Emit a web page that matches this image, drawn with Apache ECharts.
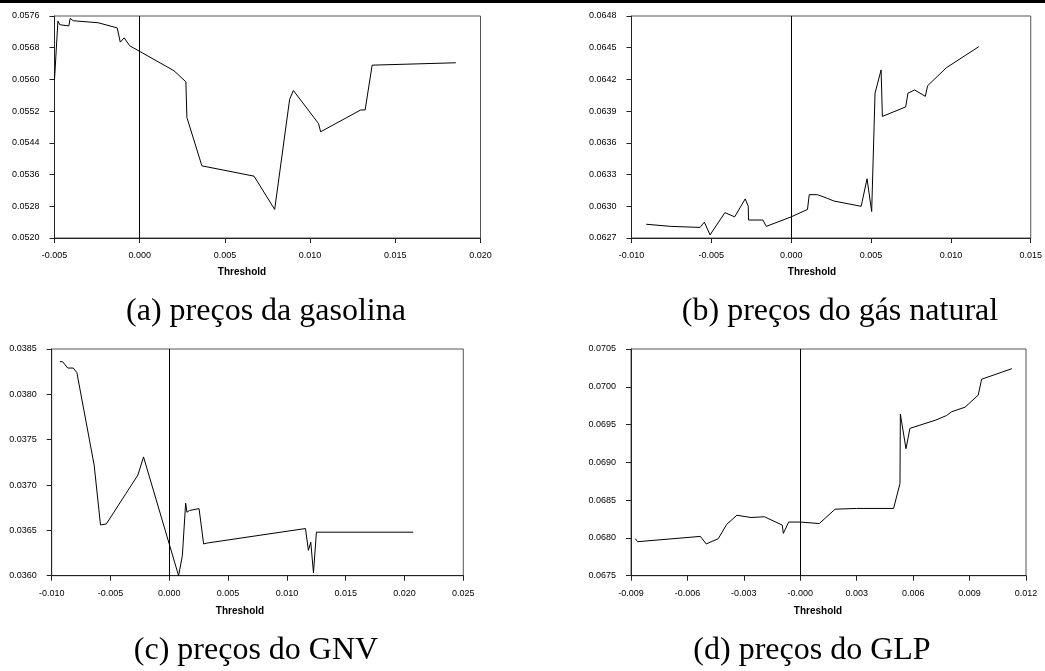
<!DOCTYPE html>
<html>
<head>
<meta charset="utf-8">
<script src="https://cdn.jsdelivr.net/npm/echarts@6/dist/echarts.min.js"></script>
<style>
html,body{margin:0;padding:0;background:#fff;}
#chart{width:1045px;height:671px;}
</style>
</head>
<body>
<div id="chart"></div>
<script>
// (a) preços da gasolina
const thresholdA = [-0.00500,-0.00480,-0.00469,-0.00416,-0.00408,-0.00390,-0.00244,-0.00132,-0.00114,-0.00091,-0.00059,0.00201,0.00271,0.00277,0.00365,0.00671,0.00792,0.00880,0.00902,0.01049,0.01062,0.01297,0.01323,0.01364,0.01855];
const valueA = [0.05599,0.05747,0.05738,0.05735,0.05754,0.05748,0.05743,0.05730,0.05694,0.05705,0.05685,0.05622,0.05594,0.05504,0.05382,0.05356,0.05272,0.05550,0.05572,0.05489,0.05468,0.05523,0.05523,0.05636,0.05642];
// (b) preços do gás natural
const thresholdB = [-0.00908,-0.00754,-0.00571,-0.00544,-0.00508,-0.00415,-0.00354,-0.00288,-0.00269,-0.00267,-0.00177,-0.00156,0.00000,0.00102,0.00113,0.00163,0.00219,0.00267,0.00438,0.00475,0.00504,0.00525,0.00563,0.00571,0.00717,0.00731,0.00773,0.00840,0.00854,0.00971,0.01175];
const valueB = [0.06283,0.06281,0.06280,0.06285,0.06273,0.06294,0.06290,0.06307,0.06300,0.06287,0.06287,0.06281,0.06290,0.06297,0.06311,0.06311,0.06308,0.06305,0.06300,0.06326,0.06295,0.06407,0.06429,0.06385,0.06394,0.06407,0.06410,0.06404,0.06414,0.06431,0.06451];
// (c) preços do GNV
const thresholdC = [-0.00931,-0.00908,-0.00863,-0.00817,-0.00786,-0.00639,-0.00585,-0.00536,-0.00267,-0.00219,0.00079,0.00111,0.00139,0.00150,0.00173,0.00253,0.00292,0.00321,0.01158,0.01183,0.01203,0.01226,0.01251,0.02074];
const valueC = [0.03836,0.03836,0.03829,0.03829,0.03824,0.03722,0.03656,0.03657,0.03711,0.03731,0.03600,0.03622,0.03680,0.03670,0.03672,0.03674,0.03635,0.03636,0.03652,0.03628,0.03637,0.03603,0.03648,0.03648];
// (d) preços do GLP
const thresholdD = [-0.00877,-0.00865,-0.00531,-0.00500,-0.00436,-0.00391,-0.00337,-0.00262,-0.00191,-0.00096,-0.00090,-0.00062,0.00000,0.00101,0.00185,0.00300,0.00496,0.00530,0.00532,0.00562,0.00583,0.00721,0.00778,0.00805,0.00876,0.00946,0.00964,0.01125];
const valueD = [0.06799,0.06795,0.06802,0.06792,0.06799,0.06818,0.06830,0.06827,0.06828,0.06817,0.06806,0.06821,0.06821,0.06819,0.06838,0.06839,0.06839,0.06872,0.06964,0.06918,0.06945,0.06956,0.06962,0.06967,0.06973,0.06989,0.07010,0.07024];

const xTicksD = ['-0.009','-0.006','-0.003','-0.000','0.003','0.006','0.009','0.012'];
const captions = ['(a) preços da gasolina','(b) preços do gás natural','(c) preços do GNV','(d) preços do GLP'];
const axisTitle = 'Threshold';

const panels = [
  {x: thresholdA, y: valueA, xmin:-0.005, xmax:0.020, xint:0.005, ymin:0.0520, ymax:0.0576, yint:0.0008,
   grid:{left:54.5, top:16, width:426, height:222}},
  {x: thresholdB, y: valueB, xmin:-0.010, xmax:0.015, xint:0.005, ymin:0.0627, ymax:0.0648, yint:0.0003,
   grid:{left:631.5, top:16, width:401.5, height:222}},
  {x: thresholdC, y: valueC, xmin:-0.010, xmax:0.025, xint:0.005, ymin:0.0360, ymax:0.0385, yint:0.0005,
   grid:{left:51.7, top:349, width:411.6, height:226.7}},
  {x: thresholdD, y: valueD, xmin:-0.009, xmax:0.012, xint:0.003, ymin:0.0675, ymax:0.0705, yint:0.0005,
   grid:{left:631, top:349, width:395, height:226.7}, xlabels: xTicksD}
];

const chart = echarts.init(document.getElementById('chart'), null, {renderer:'canvas'});
const grids=[], xAxes=[], yAxes=[], series=[], graphics=[];
const lblFont = {fontFamily:'Liberation Sans, Arial, sans-serif', fontSize:9, color:'#000'};

panels.forEach((p,i)=>{
  grids.push(Object.assign({show:true, borderColor:'#555', borderWidth:1, backgroundColor:'transparent'}, p.grid));
  xAxes.push({type:'value', gridIndex:i, min:p.xmin, max:p.xmax, interval:p.xint,
    axisLine:{show:true, onZero:false, lineStyle:{color:'#222', width:1}},
    axisTick:{show:true, inside:false, length:5, lineStyle:{color:'#222'}},
    splitLine:{show:false},
    axisLabel:Object.assign({margin:13, formatter:(v)=>{
      if(p.xlabels){ const k=Math.round((v-p.xmin)/p.xint); return p.xlabels[k]; }
      return (Math.abs(v)<1e-12?0:v).toFixed(3);
    }}, lblFont)
  });
  yAxes.push({type:'value', gridIndex:i, min:p.ymin, max:p.ymax, interval:p.yint,
    axisLine:{show:true, onZero:false, lineStyle:{color:'#222', width:1}},
    axisTick:{show:true, inside:false, length:5, lineStyle:{color:'#222'}},
    splitLine:{show:false},
    axisLabel:Object.assign({margin:15, formatter:(v)=>v.toFixed(4)}, lblFont)
  });
  series.push({type:'line', xAxisIndex:i, yAxisIndex:i, data:p.x.map((x,k)=>[x,p.y[k]]),
    showSymbol:false, symbol:'none', lineStyle:{color:'#000', width:1}, animation:false, silent:true,
    markLine:{silent:true, symbol:'none', label:{show:false}, lineStyle:{color:'#000', width:1, type:'solid'}, data:[{xAxis:0}]}
  });
});

// axis titles
const thrPos = [[242,272],[812,272],[240,611],[818,611]];
thrPos.forEach(([x,y])=>graphics.push({type:'text', x:x, y:y, style:{text:axisTitle, fontFamily:'Liberation Sans, Arial, sans-serif', fontWeight:'bold', fontSize:10, fill:'#000', textAlign:'center', textVerticalAlign:'middle'}}));
// captions
const capPos = [[266,312],[840,312],[256,651],[812,651]];
capPos.forEach(([x,y],i)=>graphics.push({type:'text', x:x, y:y, style:{text:captions[i], fontFamily:'Liberation Serif, Times New Roman, serif', fontSize:32, fill:'#000', textAlign:'center', textVerticalAlign:'middle'}}));
// top border bar
graphics.push({type:'rect', shape:{x:0,y:0,width:1045,height:3}, style:{fill:'#000'}});

chart.setOption({animation:false, backgroundColor:'#fff', grid:grids, xAxis:xAxes, yAxis:yAxes, series:series, graphic:graphics});
</script>
</body>
</html>
